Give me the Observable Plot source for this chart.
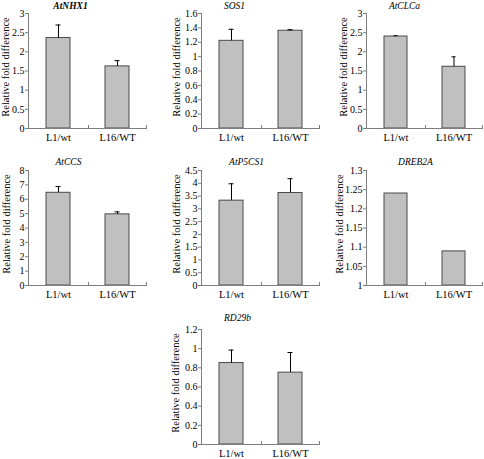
<!DOCTYPE html>
<html>
<head>
<meta charset="utf-8">
<script src="https://cdn.jsdelivr.net/npm/d3@7"></script>
<script src="https://cdn.jsdelivr.net/npm/@observablehq/plot@0.6"></script>
<style>
html, body { margin: 0; padding: 0; background: #fff; }
#fig { position: relative; width: 484px; height: 459px; overflow: hidden; background: #fff; }
#fig > div, #fig > svg, #fig > figure { position: absolute; margin: 0; }
</style>
</head>
<body>
<div id="fig"></div>
<script>
// ---------- data ----------
const categories = ["L1/wt", "L16/WT"];
const yLabel = "Relative fold difference";
const genes = ["AtNHX1", "SOS1", "AtCLCa", "AtCCS", "AtP5CS1", "DREB2A", "RD29b"];

const nhx1Values = [2.36, 1.62];
const nhx1Errors = [0.34, 0.15];
const nhx1Ticks = [0, 0.5, 1, 1.5, 2, 2.5, 3];

const sos1Values = [1.22, 1.36];
const sos1Errors = [0.16, 0.015];
const sos1Ticks = [0, 0.2, 0.4, 0.6, 0.8, 1, 1.2, 1.4, 1.6];

const clcaValues = [2.40, 1.61];
const clcaErrors = [0.02, 0.26];
const clcaTicks = [0, 0.5, 1, 1.5, 2, 2.5, 3];

const ccsValues = [6.45, 4.95];
const ccsErrors = [0.43, 0.17];
const ccsTicks = [0, 1, 2, 3, 4, 5, 6, 7, 8];

const p5cs1Values = [3.32, 3.62];
const p5cs1Errors = [0.66, 0.56];
const p5cs1Ticks = [0, 0.5, 1, 1.5, 2, 2.5, 3, 3.5, 4, 4.5];

const dreb2aValues = [1.24, 1.089];
const dreb2aErrors = null;
const dreb2aTicks = [1, 1.05, 1.1, 1.15, 1.2, 1.25, 1.3];

const rd29bValues = [0.85, 0.75];
const rd29bErrors = [0.135, 0.21];
const rd29bTicks = [0, 0.2, 0.4, 0.6, 0.8, 1, 1.2];

const panelData = [
  {gene: genes[0], values: nhx1Values, errors: nhx1Errors, ticks: nhx1Ticks},
  {gene: genes[1], values: sos1Values, errors: sos1Errors, ticks: sos1Ticks},
  {gene: genes[2], values: clcaValues, errors: clcaErrors, ticks: clcaTicks},
  {gene: genes[3], values: ccsValues, errors: ccsErrors, ticks: ccsTicks},
  {gene: genes[4], values: p5cs1Values, errors: p5cs1Errors, ticks: p5cs1Ticks},
  {gene: genes[5], values: dreb2aValues, errors: dreb2aErrors, ticks: dreb2aTicks},
  {gene: genes[6], values: rd29bValues, errors: rd29bErrors, ticks: rd29bTicks}
];

// ---------- layout (positions / styles) ----------
const layout = [
  {axisX: 28,  top: -7,  ml: 28, pw: 119, titleDx: -17.5, titleDy: -8,  labelDx: -22.5, bold: true},
  {axisX: 201, top: -7,  ml: 40, pw: 119, titleDx: -26.5, titleDy: -8,  labelDx: -25,   bold: false},
  {axisX: 366, top: -7,  ml: 40, pw: 117, titleDx: -20.5, titleDy: -8,  labelDx: -23,   bold: false},
  {axisX: 28,  top: 150, ml: 28, pw: 119, titleDx: -19.5, titleDy: -9,  labelDx: -22,   bold: false},
  {axisX: 201, top: 150, ml: 40, pw: 119, titleDx: -14.5, titleDy: -9,  labelDx: -25,   bold: false},
  {axisX: 366, top: 150, ml: 40, pw: 117, titleDx: -9.5,  titleDy: -9,  labelDx: -27,   bold: false},
  {axisX: 201, top: 309, ml: 40, pw: 119, titleDx: -23.5, titleDy: -12, labelDx: -26,   bold: false}
];

const fmt = d => String(+(+d).toFixed(2));
const FONT = "'Liberation Serif', 'Times New Roman', serif";
const AXIS = "#7f7f7f";

function axisLines(index, scales, values, dims) {
  const x = scales.x;
  const {width, height, marginLeft, marginRight, marginTop, marginBottom} = dims;
  const x0 = marginLeft, x1 = width - marginRight, yb = height - marginBottom;
  const bw = typeof x.bandwidth === "function" ? x.bandwidth() : (x.bandwidth || 0);
  const mid = (x(categories[0]) + x(categories[1]) + bw) / 2;
  const g = d3.create("svg:g").attr("stroke", AXIS).attr("fill", "none").attr("stroke-width", 1);
  g.append("line").attr("x1", x0 + 0.5).attr("x2", x0 + 0.5).attr("y1", marginTop).attr("y2", yb);
  g.append("line").attr("x1", x0).attr("x2", x1).attr("y1", yb + 0.5).attr("y2", yb + 0.5);
  g.append("line").attr("x1", Math.round(mid) + 0.5).attr("x2", Math.round(mid) + 0.5).attr("y1", yb - 3).attr("y2", yb);
  g.append("line").attr("x1", x1 - 0.5).attr("x2", x1 - 0.5).attr("y1", yb - 3).attr("y2", yb);
  return g.node();
}

const fig = document.getElementById("fig");

panelData.forEach((p, i) => {
  const L = layout[i];
  const W = L.ml + L.pw + 1;
  const H = 150;
  const yMin = p.ticks[0], yMax = p.ticks[p.ticks.length - 1];
  const rows = categories.map((c, j) => ({cat: c, v: p.values[j], e: p.errors ? p.errors[j] : null}));
  const errRows = rows.filter(d => d.e != null);

  const chart = Plot.plot({
    width: W,
    height: H,
    marginLeft: L.ml,
    marginRight: 1,
    marginTop: 20,
    marginBottom: 15,
    style: {fontFamily: FONT, fontSize: "10px", color: "#000", background: "transparent", overflow: "visible"},
    x: {domain: categories, paddingInner: 0.6, paddingOuter: 0.3, label: null},
    y: {domain: [yMin, yMax], label: null},
    marks: [
      Plot.barY(rows, {x: "cat", y1: yMin, y2: "v", fill: "#c0c0c0", stroke: "#4a4a4a", strokeWidth: 1}),
      Plot.ruleX(errRows, {x: "cat", y1: "v", y2: d => d.v + d.e, stroke: "#000", strokeWidth: 1}),
      Plot.tickY(errRows, {x: "cat", y: d => d.v + d.e, insetLeft: 9.5, insetRight: 9.5, stroke: "#000", strokeWidth: 1}),
      Plot.axisY(p.ticks, {tickSize: 3, tickPadding: 1, tickFormat: fmt, label: null, stroke: AXIS, fill: "#000", fontSize: 10}),
      Plot.axisX({tickSize: 0, tickPadding: 5, label: null, fill: "#000", fontSize: 10.5}),
      axisLines,
      Plot.text([yLabel], {frameAnchor: "left", text: d => d, rotate: -90, dx: L.labelDx, dy: -4, textAnchor: "middle", lineAnchor: "middle", fontSize: 10.5, fill: "#000"}),
      Plot.text([p.gene], {frameAnchor: "top", text: d => d, dx: L.titleDx, dy: L.titleDy, lineAnchor: "middle", fontSize: 9.5, fontStyle: "italic", fontWeight: L.bold ? "bold" : "normal", fill: "#000"})
    ]
  });
  chart.style.position = "absolute";
  chart.style.left = (L.axisX - L.ml) + "px";
  chart.style.top = L.top + "px";
  fig.appendChild(chart);
});
</script>
</body>
</html>
